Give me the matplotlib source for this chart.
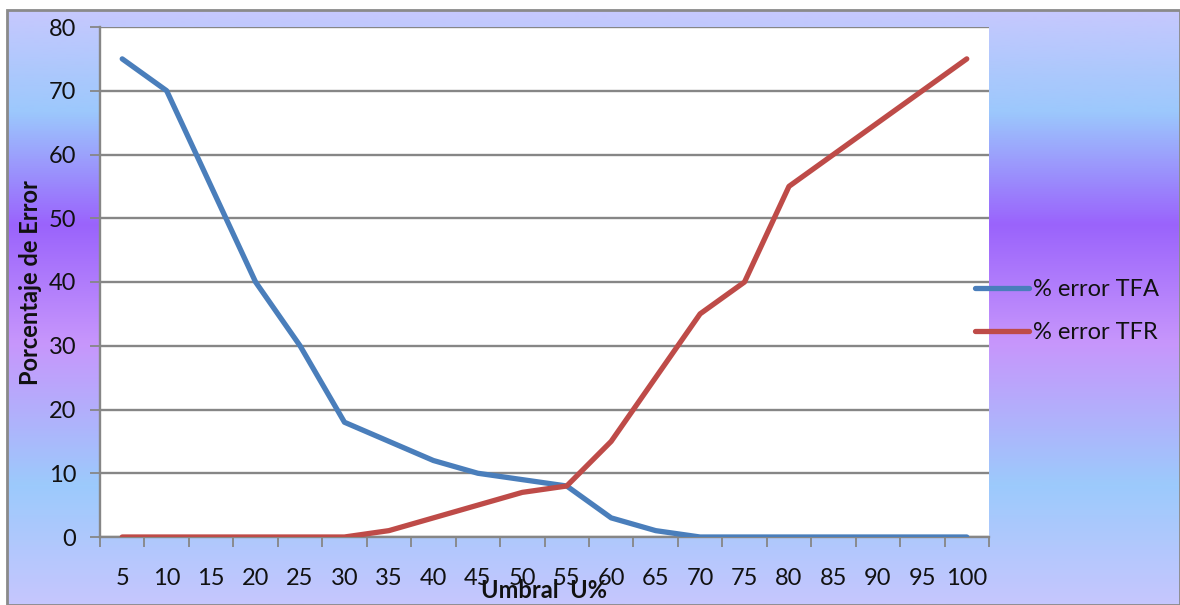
import numpy as np
import matplotlib
matplotlib.use("Agg")
import matplotlib.pyplot as plt
from matplotlib.colors import LinearSegmentedColormap
from matplotlib.patches import Rectangle

plt.rcParams['font.family'] = ['Lato', 'DejaVu Sans']

# Umbral values and error percentages
umbral = [5, 10, 15, 20, 25, 30, 35, 40, 45, 50,
          55, 60, 65, 70, 75, 80, 85, 90, 95, 100]
error_tfa = [75, 70, 55, 40, 30, 18, 15, 12, 10, 9,
             8, 3, 1, 0, 0, 0, 0, 0, 0, 0]
error_tfr = [0, 0, 0, 0, 0, 0, 1, 3, 5, 7,
             8, 15, 25, 35, 40, 55, 60, 65, 70, 75]
y_ticks = [0, 10, 20, 30, 40, 50, 60, 70, 80]

W, H = 1180, 605
fig = plt.figure(figsize=(W / 100, H / 100), dpi=100, facecolor='white')

# Chart area background: vertical multi-stop gradient
x0, y0, x1, y1 = 7 / W, 0.0, 1.0, 1 - 10 / H
bg = fig.add_axes([x0, y0, x1 - x0, y1 - y0])
bg.set_axis_off()
stops = [
    (0.00, '#c6c8fe'),
    (0.17, '#9cc8fc'),
    (0.36, '#9a63fc'),
    (0.56, '#c796fb'),
    (0.80, '#9ccafc'),
    (1.00, '#c6c6fe'),
]
cmap = LinearSegmentedColormap.from_list('chartbg', stops)
grad = np.linspace(0, 1, 512).reshape(-1, 1)
bg.imshow(grad, aspect='auto', cmap=cmap, extent=[0, 1, 0, 1], origin='upper')
bg.set_xlim(0, 1)
bg.set_ylim(0, 1)
fig.patches.append(Rectangle((x0, y0), x1 - x0, y1 - y0, transform=fig.transFigure,
                             fill=False, edgecolor='#8a8a8a', lw=2.0, zorder=5))

# Plot area
left, right = 100 / W, 989 / W
bottom, top = (H - 537) / H, (H - 27) / H
ax = fig.add_axes([left, bottom, right - left, top - bottom], facecolor='white')

pos = np.arange(len(umbral))
blue = '#4a7ebb'
red = '#be4b48'
ln_a, = ax.plot(pos, error_tfa, color=blue, lw=3.8, solid_capstyle='round',
                solid_joinstyle='round', zorder=3, label='% error TFA')
ln_r, = ax.plot(pos, error_tfr, color=red, lw=3.8, solid_capstyle='round',
                solid_joinstyle='round', zorder=3, label='% error TFR')

ax.set_xlim(-0.5, len(umbral) - 0.5)
ax.set_ylim(0, 80)
ax.set_yticks(y_ticks)
ax.yaxis.grid(True, color='#868686', lw=1.7)
ax.set_axisbelow(True)

ax.set_xticks(pos)
ax.set_xticklabels([str(u) for u in umbral])
ax.set_xticks(np.arange(-0.5, len(umbral), 1.0), minor=True)
ax.tick_params(axis='x', which='major', length=0, pad=22, labelsize=17, labelcolor='#111111')
ax.tick_params(axis='x', which='minor', length=7, width=1.3, color='#868686', direction='out')
ax.tick_params(axis='y', length=7, width=1.3, color='#868686', pad=10,
               labelsize=17, labelcolor='#111111')

for s in ('top', 'right'):
    ax.spines[s].set_visible(False)
for s in ('left', 'bottom'):
    ax.spines[s].set_color('#868686')
    ax.spines[s].set_linewidth(1.7)

# Axis titles
fig.text(30 / W, 1 - 283 / H, 'Porcentaje de Error', rotation=90, ha='center', va='center',
         fontsize=17, fontweight='bold', color='#111111')
fig.text(544 / W, 1 - 590 / H, 'Umbral  U%', ha='center', va='center',
         fontsize=17, fontweight='bold', color='#111111', zorder=6)

# Legend
leg = fig.legend(handles=[ln_a, ln_r], loc='center left',
                 bbox_to_anchor=(975 / W, 1 - 311 / H), frameon=False,
                 fontsize=17, handlelength=2.3, handletextpad=0.15,
                 labelspacing=0.95, borderaxespad=0, borderpad=0)
for t in leg.get_texts():
    t.set_color('#111111')

fig.savefig('out.png', dpi=100, facecolor='white')
